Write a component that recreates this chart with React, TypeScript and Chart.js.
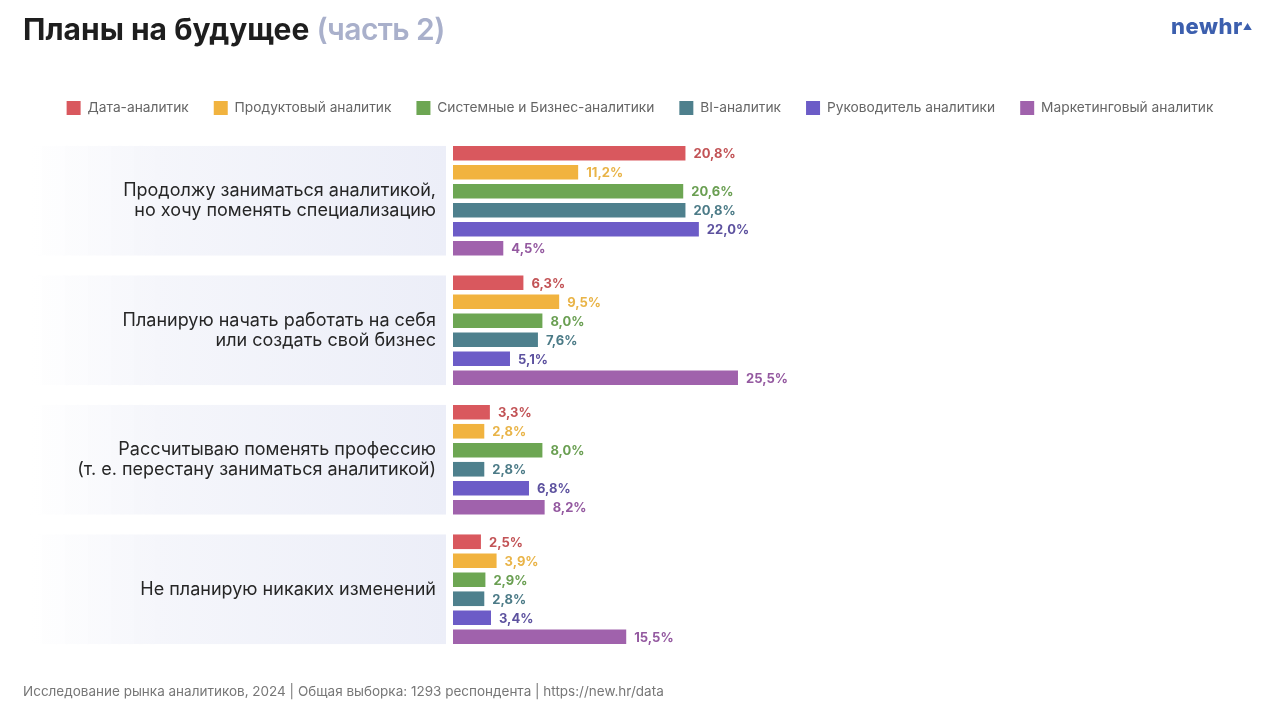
import React, { useEffect, useRef } from "react";
import { Chart, registerables } from "chart.js";

Chart.register(...registerables);

const categories: string[][] = [
  ["Продолжу заниматься аналитикой,", "но хочу поменять специализацию"],
  ["Планирую начать работать на себя", "или создать свой бизнес"],
  ["Рассчитываю поменять профессию", "(т. е. перестану заниматься аналитикой)"],
  ["Не планирую никаких изменений"],
];

const seriesNames = [
  "Дата-аналитик",
  "Продуктовый аналитик",
  "Системные и Бизнес-аналитики",
  "BI-аналитик",
  "Руководитель аналитики",
  "Маркетинговый аналитик",
];

const dataAnalyst = [20.8, 6.3, 3.3, 2.5];
const productAnalyst = [11.2, 9.5, 2.8, 3.9];
const systemAnalyst = [20.6, 8.0, 8.0, 2.9];
const biAnalyst = [20.8, 7.6, 2.8, 2.8];
const leadAnalyst = [22.0, 5.1, 6.8, 3.4];
const marketingAnalyst = [4.5, 25.5, 8.2, 15.5];

const seriesValues = [dataAnalyst, productAnalyst, systemAnalyst, biAnalyst, leadAnalyst, marketingAnalyst];

const barColors = ["#d9585e", "#f1b33f", "#6da653", "#4e808d", "#6c5cc7", "#a062ac"];
const labelColors = ["#c25356", "#e9b448", "#6a9f52", "#4c7b87", "#5d529f", "#9459a0"];

const FONT = "Inter, 'Noto Sans', sans-serif";

const fmt = (v: number) => v.toFixed(1).replace(".", ",") + "%";

const bandPlugin = {
  id: "bands",
  beforeDraw(chart: any) {
    const ctx = chart.ctx;
    const first = chart.getDatasetMeta(0);
    const last = chart.getDatasetMeta(seriesValues.length - 1);
    const x0 = 30;
    const x1 = chart.chartArea.left - 7;
    categories.forEach((_, i) => {
      const a = first.data[i];
      const b = last.data[i];
      if (!a || !b) return;
      const top = a.y - a.height / 2;
      const bottom = b.y + b.height / 2;
      const g = ctx.createLinearGradient(x0, 0, x1, 0);
      g.addColorStop(0, "rgba(245,246,251,0)");
      g.addColorStop(0.3, "rgba(245,246,251,1)");
      g.addColorStop(1, "rgba(236,238,248,1)");
      ctx.save();
      ctx.fillStyle = g;
      ctx.fillRect(x0, top, x1 - x0, bottom - top);
      ctx.restore();
    });
  },
};

const valueLabelPlugin = {
  id: "valueLabels",
  afterDatasetsDraw(chart: any) {
    const ctx = chart.ctx;
    ctx.save();
    ctx.font = `700 13px ${FONT}`;
    ctx.textBaseline = "middle";
    ctx.textAlign = "left";
    chart.data.datasets.forEach((ds: any, di: number) => {
      const meta = chart.getDatasetMeta(di);
      ctx.fillStyle = labelColors[di];
      meta.data.forEach((el: any, i: number) => {
        ctx.fillText(fmt(ds.data[i]), el.x + 8, el.y + 1);
      });
    });
    ctx.restore();
  },
};

export default function App() {
  const ref = useRef<HTMLCanvasElement | null>(null);

  useEffect(() => {
    if (!ref.current) return;
    const chart = new Chart(ref.current, {
      type: "bar",
      data: {
        labels: categories,
        datasets: seriesNames.map((name, i) => ({
          label: name,
          data: seriesValues[i],
          backgroundColor: barColors[i],
          borderWidth: 0,
          barPercentage: 0.77,
          categoryPercentage: 0.88,
        })),
      },
      options: {
        indexAxis: "y",
        animation: false,
        responsive: false,
        devicePixelRatio: 1,
        layout: { padding: { top: 76, bottom: 66, left: 0, right: 0 } },
        plugins: {
          legend: {
            position: "top",
            labels: {
              boxWidth: 14,
              boxHeight: 14,
              padding: 25,
              color: "#666666",
              font: { family: FONT, size: 13.75 },
            },
          },
          tooltip: { enabled: false },
        },
        scales: {
          x: {
            position: "top",
            min: 0,
            max: 74,
            ticks: { display: false },
            grid: { display: false, drawTicks: false },
            border: { display: false },
            afterFit(scale: any) {
              scale.height = 11;
            },
          },
          y: {
            ticks: {
              color: "#262626",
              padding: 17,
              font: { family: FONT, size: 18, lineHeight: 1.12 },
            },
            grid: { display: false, drawTicks: false },
            border: { display: false },
            afterFit(scale: any) {
              scale.width = 453;
            },
          },
        },
      },
      plugins: [bandPlugin, valueLabelPlugin],
    });
    return () => chart.destroy();
  }, []);

  return (
    <div
      style={{
        position: "fixed",
        left: 0,
        top: 0,
        width: 1280,
        height: 720,
        background: "#ffffff",
        overflow: "hidden",
        fontFamily: FONT,
      }}
    >
      <canvas ref={ref} width={1280} height={720} style={{ position: "absolute", left: 0, top: 0 }} />
      <div
        style={{
          position: "absolute",
          left: 23,
          top: 11,
          fontSize: 30,
          fontWeight: 700,
          color: "#1e1e1e",
          letterSpacing: 0,
          whiteSpace: "nowrap",
        }}
      >
        Планы на будущее{" "}
        <span style={{ color: "#a9b0cb", fontWeight: 600, letterSpacing: -0.6 }}>(часть 2)</span>
      </div>
      <div
        style={{
          position: "absolute",
          left: 1171,
          top: 13,
          fontSize: 22,
          fontWeight: 800,
          color: "#3c5fae",
          letterSpacing: 0.5,
        }}
      >
        newhr<span style={{ fontSize: 9, verticalAlign: "top", position: "relative", top: 8 }}>▲</span>
      </div>
      <div
        style={{
          position: "absolute",
          left: 23,
          top: 683,
          fontSize: 13.5,
          color: "#777777",
          whiteSpace: "nowrap",
        }}
      >
        Исследование рынка аналитиков, 2024 | Общая выборка: 1293 респондента | https://new.hr/data
      </div>
    </div>
  );
}
